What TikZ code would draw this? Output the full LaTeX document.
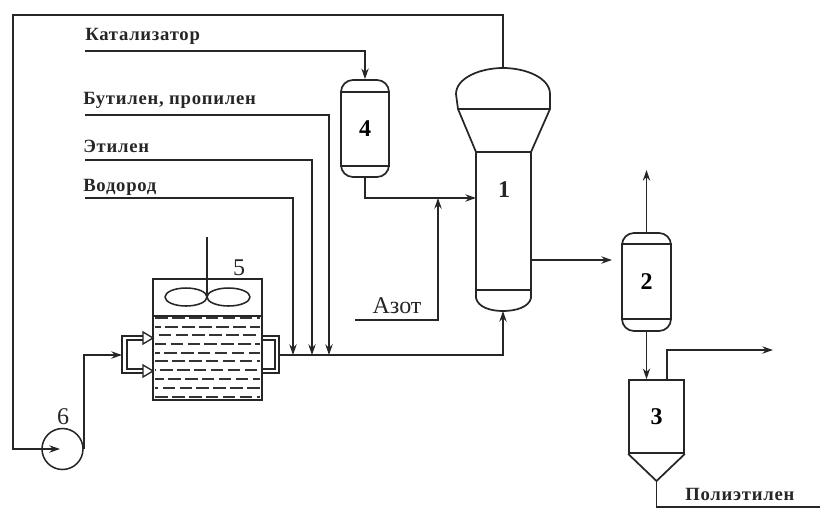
\documentclass[tikz,border=0pt]{standalone}
\usepackage{fontspec}
\setmainfont{Liberation Serif}
\newfontface\streamface[LetterSpace=4]{Liberation Serif Bold}
\usetikzlibrary{arrows.meta}
\tikzset{
  line/.style={draw=black!85,line width=1.15pt},
  flow/.style={line,-{Stealth[length=8pt,width=5.5pt]}},
  openarrow/.style={draw=black!85,line width=1pt,fill=white},
  vesselbox/.style={line,line width=1.3pt,rounded corners=9pt,inner sep=0pt,font=\fontsize{18}{18}\selectfont\bfseries},
  plainbox/.style={line,line width=1.3pt,inner sep=0pt,font=\fontsize{18}{18}\selectfont\bfseries},
  stream/.style={font=\fontsize{14}{16}\streamface,inner sep=0pt,anchor=base west,text=black!85},
  num/.style={font=\fontsize{18}{18}\selectfont,inner sep=0pt,text=black!85},
  liquid/.style={draw=black!80,line width=1.2pt,dash pattern=on 9.5pt off 3.2pt},
}
\begin{document}
\begin{tikzpicture}[x=0.75pt,y=-0.75pt]
\useasboundingbox (0,0) rectangle (827,508);
% vessels
\node[vesselbox,minimum width=36pt,minimum height=72.75pt] (v4) at (365,128.5) {4};
\node[vesselbox,minimum width=36.75pt,minimum height=73.5pt] (v2) at (646.5,282) {2};
\node[plainbox,minimum width=41.25pt,minimum height=54.75pt] (v3) at (656.5,416.5) {3};
\node[plainbox,minimum width=81.75pt,minimum height=90.75pt] (v5) at (207.5,339.5) {};
\node[line,circle,minimum size=30.75pt,inner sep=0pt] (pump) at (62.5,449) {};
\node[num] (n6) at (63,417) {6};
\node[num] (n5) at (239,268) {5};
\node[num,font=\fontsize{18}{18}\selectfont\bfseries] (n1) at (504,190) {1};
% vessel 1
\coordinate (r1bl) at (476,152);
\coordinate (r1br) at (531,152);
\coordinate (r1top) at (503,68);
\coordinate (r1bot) at (503,311);
\coordinate (r1in) at (476,198);
\coordinate (r1out) at (531,260);
\draw[line,line width=1.3pt] (r1bl) -- (r1br);
\draw[line,line width=1.3pt,line join=round] (r1bl) -- (476,298) .. controls (478,307) and (490,311) .. (r1bot)
  .. controls (516,311) and (529,307) .. (531,298) -- (r1br) -- (550,109) -- (458,109) -- (r1bl);
\draw[line,line width=1.3pt] (458,109) -- (456,94) .. controls (456,78) and (480,68) .. (r1top)
  .. controls (526,68) and (550,78) .. (550,94) -- (550,109);
\draw[line] (476,290) -- (531,290);
% vessel head/bottom lines
\draw[line] (v4.west |- 0,92) -- (v4.east |- 0,92);
\draw[line] (v4.west |- 0,166) -- (v4.east |- 0,166);
\draw[line] (v2.west |- 0,244) -- (v2.east |- 0,244);
\draw[line] (v2.west |- 0,319) -- (v2.east |- 0,319);
% hopper cone
\coordinate (conetip) at (656.5,481);
\draw[line,line width=1.3pt] (v3.south west) -- (conetip) -- (v3.south east);
% reactor 5
\draw[line] (v5.west |- 0,316) -- (v5.east |- 0,316);
\coordinate (shafttop) at (207,237);
\coordinate (hub) at (207,297);
\draw[line] (shafttop) -- (hub);
\draw[line] (186,297) ellipse [x radius=21,y radius=9];
\draw[line] (228.5,297) ellipse [x radius=21.5,y radius=9];
\foreach \y/\ph in {318/0,327/5,335/10,344/1,353/6,361/0,370/9,379/3,388/7,397/0}{
  \draw[liquid,dash phase=\ph pt] (155,\y) -- (260,\y);
}
% feed lines
\coordinate (kat) at (85,51);
\coordinate (but) at (85,115);
\coordinate (etl) at (85,160);
\coordinate (vod) at (85,198);
\coordinate (jh) at (293,355);
\coordinate (je) at (312,355);
\coordinate (jb) at (329,355);
\coordinate (azs) at (355,320);
\coordinate (azj) at (438,198);
\draw[flow] (kat) -| (v4.north);
\draw[flow] (but) -| (jb);
\draw[flow] (etl) -| (je);
\draw[flow] (vod) -| (jh);
\draw[flow] (v4.south) |- (r1in);
\draw[flow] (azs) -| (azj);
\node[stream] (lkat) at (85,40) {Катализатор};
\node[stream] (lbut) at (83,104) {Бутилен, пропилен};
\node[stream] (letl) at (83,152) {Этилен};
\node[stream] (lvod) at (83,191) {Водород};
\node[inner sep=0pt,font=\fontsize{18}{18}\selectfont,text=black!85] (laz) at (397,306) {Азот};
% recycle
\coordinate (pumpin) at (13,449);
\draw[line,-{Stealth[length=8pt,width=5.5pt]}] (r1top) -- (503,15) -- (13,15) -- (pumpin) -- (60,449);
% pump to reactor
\coordinate (split) at (122,355);
\draw[flow] (pump.east) |- (split);
% double piping left
\draw[line,line width=1pt] (143,336) -- (122,336) -- (122,373) -- (143,373);
\draw[line,line width=1pt] (143,340) -- (127,340) -- (127,369) -- (143,369);
\draw[openarrow] (143,332) -- (153,338) -- (143,344) -- cycle;
\draw[openarrow] (143,365) -- (153,371) -- (143,377) -- cycle;
% double piping right
\draw[line,line width=1pt] (262,336) -- (279,336) -- (279,373) -- (262,373);
\draw[line,line width=1pt] (262,340) -- (275,340) -- (275,369) -- (262,369);
% outlet
\coordinate (outs) at (279,355);
\draw[flow] (outs) -| (r1bot);
% reactor to 2
\coordinate (to2) at (612,260);
\draw[flow] (r1out) -- (to2);
% 2 outlets
\coordinate (top2) at (646.5,170);
\draw[flow] (v2.north) -- (top2);
\draw[flow] (v2.south) -- (v2.south |- v3.north);
% 3 outlets
\coordinate (v3out) at (667,380);
\coordinate (gas3) at (773,350);
\draw[flow] (v3out) |- (gas3);
\coordinate (pebot) at (656.5,507);
\coordinate (peend) at (820,507);
\draw[line] (conetip) -- (pebot) -- (peend);
\node[stream] (lpe) at (685,500) {Полиэтилен};
\end{tikzpicture}
\end{document}
